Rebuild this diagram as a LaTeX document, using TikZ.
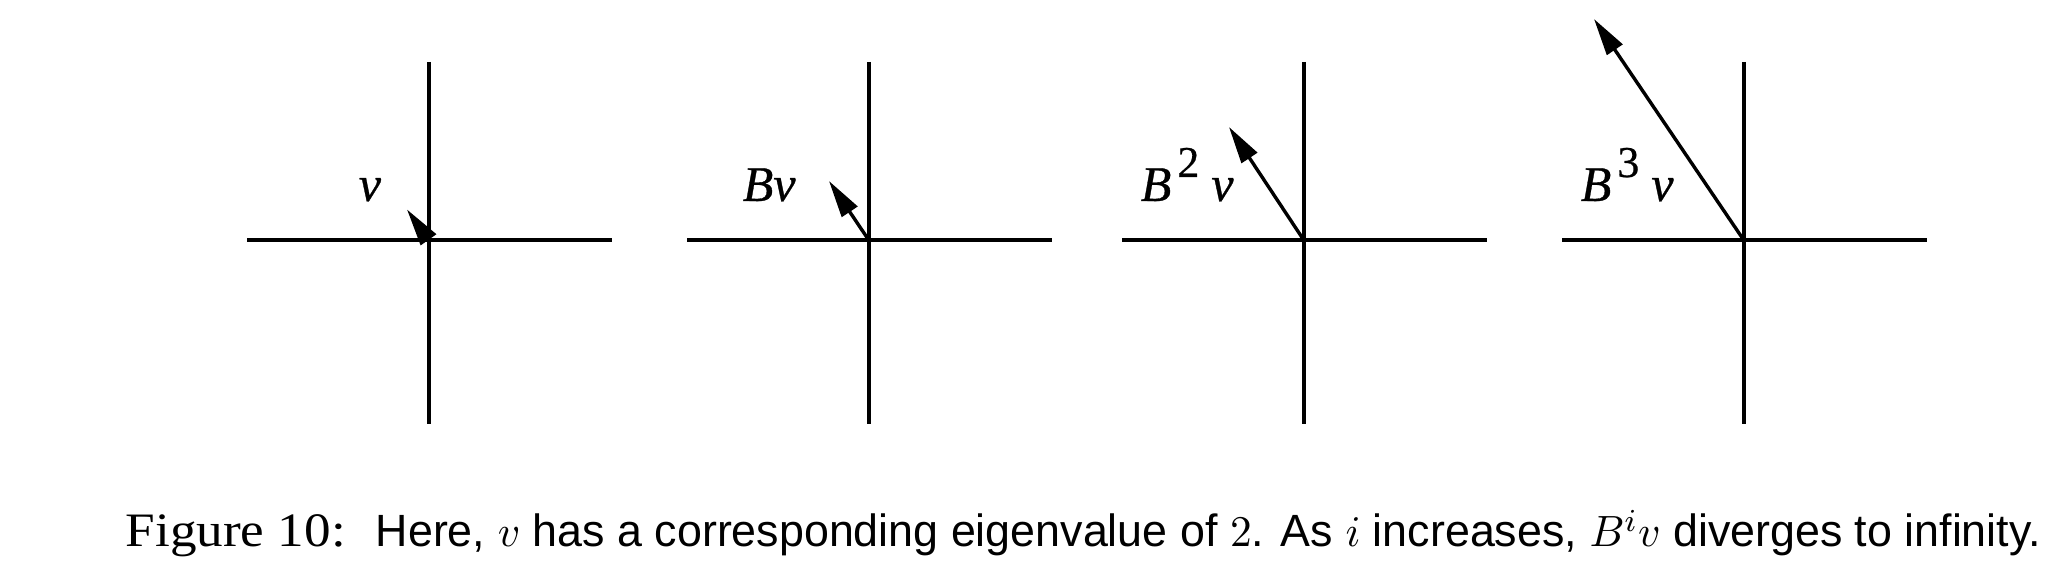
\documentclass[tikz,border=0pt]{standalone}
\usepackage[no-math]{fontspec}
\usepackage{graphicx}
\usetikzlibrary{arrows.meta}
\newfontfamily\labit[FakeBold=0.6]{Liberation Serif Italic}
\newfontfamily\labup[FakeBold=0.6]{Liberation Serif}
\newfontfamily\capserif{Liberation Serif}
\newfontfamily\capsans{Liberation Sans}
\begin{document}
\begin{tikzpicture}[x=0.25pt,y=-0.25pt,
  axis/.style={line width=1pt},
  vec/.style={line width=0.85pt,-{Triangle[length=9.3pt,width=4.6pt]}},
  lab/.style={anchor=base west,inner sep=0pt,font=\fontsize{12.5}{14}\selectfont\labit}]
\useasboundingbox (0,0) rectangle (2070,574);
% panel centres
\foreach \n/\cx in {1/429,2/869,3/1304,4/1744}{
  \coordinate (o\n) at (\cx,240.5);
  \coordinate (l\n) at (\cx-182,240.5);
  \coordinate (r\n) at (\cx+183,240.5);
  \coordinate (t\n) at (\cx,62);
  \coordinate (b\n) at (\cx,424);
  \draw[axis] (l\n) -- (r\n);
  \draw[axis] (t\n) -- (b\n);
}
% vector tips
\coordinate (p1) at (407,209.5);
\coordinate (p2) at (829,181);
\coordinate (p3) at (1229,127);
\coordinate (p4) at (1594,19);
\draw[vec] (o1) -- (p1);
\draw[vec] (o2) -- (p2);
\draw[vec] (o3) -- (p3);
\draw[vec] (o4) -- (p4);
% labels
\node[lab] (v1) at (358,201) {v};
\node[lab] (v2) at (742,201) {Bv};
\node[lab] (v3) at (1140,201) {B\kern1.5pt\raisebox{6pt}{\labup\fontsize{11}{11}\selectfont 2}\kern3pt v};
\node[lab] (v4) at (1580,201) {B\kern1.5pt\raisebox{6pt}{\labup\fontsize{11}{11}\selectfont 3}\kern3pt v};
% caption
\node[anchor=base west,inner sep=0pt] (cap) at (125,547)
  {\resizebox{55pt}{\height}{\fontsize{12}{14}\selectfont\capserif Figure 10:}\hspace{7.5pt}\resizebox{416.25pt}{\height}{\fontsize{11.3}{14}\selectfont\capsans Here, $v$ has a corresponding eigenvalue of $2$. As $i$ increases, $B^iv$ diverges to infinity.}};
\end{tikzpicture}
\end{document}
